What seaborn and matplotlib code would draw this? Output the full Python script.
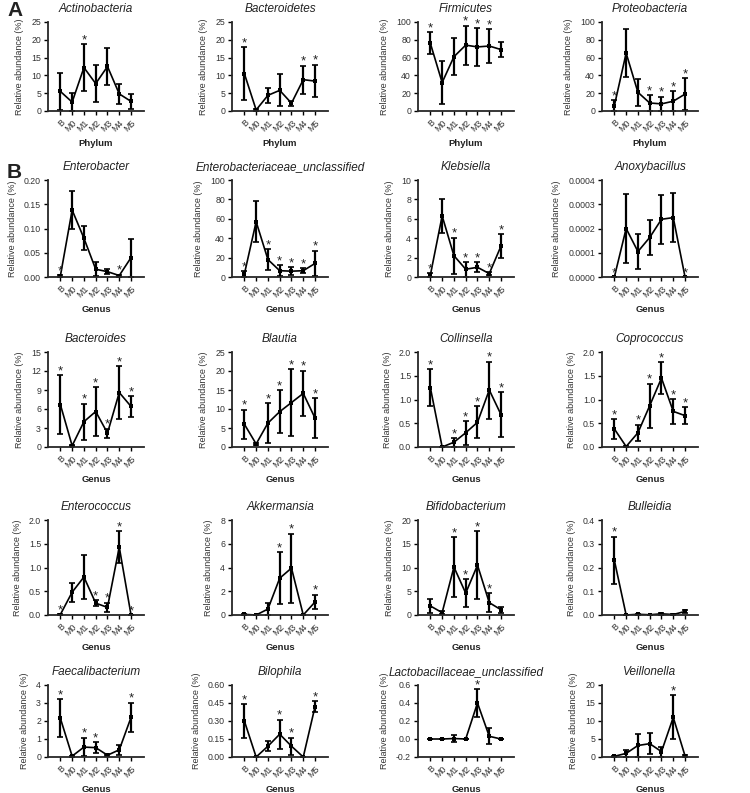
import matplotlib
matplotlib.use('Agg')
import matplotlib.pyplot as plt
import seaborn as sns
import pandas as pd

# sampling points
groups = ['B', 'M0', 'M1', 'M2', 'M3', 'M4', 'M5']

# --- A: phylum level (mean, sd, significance) ---
actino_mean = [5.5, 2.5, 12.2, 7.7, 12.5, 4.8, 2.7]
actino_err = [5.3, 2.5, 6.5, 5.3, 5.3, 2.9, 2.2]
actino_sig = [0, 0, 1, 0, 0, 0, 0]

bactero_mean = [10.5, 0.3, 4.4, 5.8, 2.2, 8.8, 8.4]
bactero_err = [7.5, 0.3, 2.1, 4.5, 0.7, 3.9, 4.6]
bactero_sig = [1, 0, 0, 0, 0, 1, 1]

firmi_mean = [76, 32, 61, 74, 72, 73, 69]
firmi_err = [12.5, 24.5, 21, 22, 21, 19, 8.5]
firmi_sig = [1, 0, 0, 1, 1, 1, 0]

proteo_mean = [6, 65, 21, 9, 8, 11, 19]
proteo_err = [6.5, 27, 15.5, 9, 8, 11, 18]
proteo_sig = [1, 0, 0, 1, 1, 1, 1]

# --- B: genus level ---
enterob_mean = [0.002, 0.138, 0.080, 0.016, 0.011, 0.003, 0.040]
enterob_err = [0.002, 0.040, 0.025, 0.014, 0.005, 0.002, 0.039]
enterob_sig = [1, 0, 0, 0, 0, 1, 0]

enterounc_mean = [3, 57, 18, 6.5, 6, 6.5, 14]
enterounc_err = [3, 21, 10.5, 5.5, 4, 2.5, 13]
enterounc_sig = [1, 0, 1, 1, 1, 1, 1]

klebs_mean = [0.2, 6.3, 2.2, 0.8, 1.0, 0.35, 3.2]
klebs_err = [0.2, 1.75, 1.85, 0.75, 0.5, 0.15, 1.2]
klebs_sig = [1, 0, 1, 1, 1, 1, 1]

anoxy_mean = [0.0, 0.000200, 0.000105, 0.000163, 0.000238, 0.000245, 0.0]
anoxy_err = [0.0, 0.000142, 0.000071, 0.000073, 0.000100, 0.000102, 0.0]
anoxy_sig = [1, 0, 0, 0, 0, 0, 1]

bacteroides_mean = [6.7, 0.2, 4.0, 5.6, 2.2, 8.6, 6.4]
bacteroides_err = [4.6, 0.1, 2.85, 3.8, 0.7, 4.2, 1.6]
bacteroides_sig = [1, 0, 1, 1, 1, 1, 1]

blautia_mean = [6.0, 0.8, 6.3, 9.3, 11.7, 14.1, 7.6]
blautia_err = [3.8, 0.2, 5.2, 5.6, 8.7, 6.0, 5.3]
blautia_sig = [1, 0, 1, 1, 1, 1, 1]

collin_mean = [1.25, 0.0, 0.10, 0.30, 0.52, 1.20, 0.68]
collin_err = [0.39, 0.0, 0.09, 0.25, 0.34, 0.60, 0.47]
collin_sig = [1, 0, 1, 1, 1, 1, 1]

copro_mean = [0.38, 0.01, 0.30, 0.87, 1.45, 0.75, 0.66]
copro_err = [0.21, 0.01, 0.17, 0.46, 0.33, 0.26, 0.18]
copro_sig = [1, 0, 1, 1, 1, 1, 1]

enteroc_mean = [0.01, 0.48, 0.80, 0.25, 0.16, 1.43, 0.0]
enteroc_err = [0.01, 0.20, 0.46, 0.06, 0.10, 0.33, 0.0]
enteroc_sig = [1, 0, 0, 1, 1, 1, 1]

akker_mean = [0.05, 0.0, 0.5, 3.1, 3.95, 0.0, 1.1]
akker_err = [0.05, 0.0, 0.5, 2.2, 2.9, 0.0, 0.62]
akker_sig = [0, 0, 0, 1, 1, 0, 1]

bifido_mean = [1.9, 0.5, 10.1, 4.6, 10.5, 2.6, 1.1]
bifido_err = [1.4, 0.3, 6.3, 3.0, 7.1, 2.0, 0.65]
bifido_sig = [0, 0, 1, 1, 1, 1, 0]

bulle_mean = [0.23, 0.0, 0.003, 0.001, 0.005, 0.002, 0.015]
bulle_err = [0.10, 0.0, 0.003, 0.001, 0.004, 0.002, 0.006]
bulle_sig = [1, 0, 0, 0, 0, 0, 0]

faecali_mean = [2.15, 0.05, 0.55, 0.52, 0.10, 0.40, 2.20]
faecali_err = [1.05, 0.03, 0.52, 0.30, 0.06, 0.29, 0.82]
faecali_sig = [1, 0, 1, 1, 0, 0, 1]

bilo_mean = [0.30, 0.0, 0.09, 0.19, 0.09, 0.0, 0.42]
bilo_err = [0.14, 0.0, 0.04, 0.12, 0.07, 0.0, 0.045]
bilo_sig = [1, 0, 0, 1, 1, 0, 1]

lacto_mean = [0.0, 0.0, 0.005, 0.0, 0.40, 0.03, 0.0]
lacto_err = [0.0, 0.0, 0.035, 0.0, 0.155, 0.087, 0.0]
lacto_sig = [0, 0, 0, 0, 1, 0, 0]

veill_mean = [0.2, 1.0, 3.2, 3.7, 1.5, 11.0, 0.3]
veill_err = [0.1, 0.9, 3.2, 2.9, 1.4, 6.1, 0.3]
veill_sig = [0, 0, 0, 0, 0, 1, 0]

# title, mean, err, sig, ymin, ymax, step, tick format
panels = [
    ('Actinobacteria', actino_mean, actino_err, actino_sig, 0, 25, 5, '{:.0f}'),
    ('Bacteroidetes', bactero_mean, bactero_err, bactero_sig, 0, 25, 5, '{:.0f}'),
    ('Firmicutes', firmi_mean, firmi_err, firmi_sig, 0, 100, 20, '{:.0f}'),
    ('Proteobacteria', proteo_mean, proteo_err, proteo_sig, 0, 100, 20, '{:.0f}'),
    ('Enterobacter', enterob_mean, enterob_err, enterob_sig, 0, 0.2, 0.05, '{:.2f}'),
    ('Enterobacteriaceae_unclassified', enterounc_mean, enterounc_err, enterounc_sig, 0, 100, 20, '{:.0f}'),
    ('Klebsiella', klebs_mean, klebs_err, klebs_sig, 0, 10, 2, '{:.0f}'),
    ('Anoxybacillus', anoxy_mean, anoxy_err, anoxy_sig, 0, 0.0004, 0.0001, '{:.4f}'),
    ('Bacteroides', bacteroides_mean, bacteroides_err, bacteroides_sig, 0, 15, 3, '{:.0f}'),
    ('Blautia', blautia_mean, blautia_err, blautia_sig, 0, 25, 5, '{:.0f}'),
    ('Collinsella', collin_mean, collin_err, collin_sig, 0, 2.0, 0.5, '{:.1f}'),
    ('Coprococcus', copro_mean, copro_err, copro_sig, 0, 2.0, 0.5, '{:.1f}'),
    ('Enterococcus', enteroc_mean, enteroc_err, enteroc_sig, 0, 2.0, 0.5, '{:.1f}'),
    ('Akkermansia', akker_mean, akker_err, akker_sig, 0, 8, 2, '{:.0f}'),
    ('Bifidobacterium', bifido_mean, bifido_err, bifido_sig, 0, 20, 5, '{:.0f}'),
    ('Bulleidia', bulle_mean, bulle_err, bulle_sig, 0, 0.4, 0.1, '{:.1f}'),
    ('Faecalibacterium', faecali_mean, faecali_err, faecali_sig, 0, 4, 1, '{:.0f}'),
    ('Bilophila', bilo_mean, bilo_err, bilo_sig, 0, 0.6, 0.15, '{:.2f}'),
    ('Lactobacillaceae_unclassified', lacto_mean, lacto_err, lacto_sig, -0.2, 0.6, 0.2, '{:.1f}'),
    ('Veillonella', veill_mean, veill_err, veill_sig, 0, 20, 5, '{:.0f}'),
]

sns.set_style('ticks')
plt.rcParams['font.family'] = ['Liberation Sans', 'DejaVu Sans']
plt.rcParams['axes.linewidth'] = 1.3
plt.rcParams['text.color'] = '#222222'

W, H = 750, 793
fig = plt.figure(figsize=(W / 100, H / 100), dpi=100)

col_left = [48, 232, 418, 602]
ax_w = 96
rows = [(22, 111), (180, 277), (352, 447), (520, 615), (685, 757)]

for k, (title, mean, err, sig, ymin, ymax, step, fmt) in enumerate(panels):
    r, c = divmod(k, 4)
    top, bot = rows[r]
    ax = fig.add_axes([col_left[c] / W, 1 - bot / H, ax_w / W, (bot - top) / H])
    df = pd.DataFrame({'pos': range(len(groups)), 'mean': mean})
    sns.lineplot(data=df, x='pos', y='mean', color='black', lw=1.2,
                 marker='s', markersize=3.2, markeredgewidth=0, ax=ax)
    ax.errorbar(range(len(groups)), mean, yerr=err, fmt='none', ecolor='black',
                elinewidth=1.6, capsize=2, capthick=1.2)
    for i in range(len(groups)):
        if sig[i]:
            ax.annotate('*', (i, mean[i] + err[i]), xytext=(0, -1.5),
                        textcoords='offset points', ha='center', va='bottom',
                        fontsize=9.5, color='#222222', annotation_clip=False)
    ax.set_xlim(-1.05, 7.1)
    ax.set_ylim(ymin, ymax)
    n = int(round((ymax - ymin) / step))
    ticks = [ymin + j * step for j in range(n + 1)]
    ax.set_yticks(ticks)
    ax.set_yticklabels([fmt.format(t) for t in ticks])
    ax.set_xticks(range(len(groups)))
    ax.set_xticklabels(groups, rotation=45, ha='right', rotation_mode='anchor')
    ax.tick_params(axis='both', labelsize=6.3, length=3, width=1.0,
                   colors='black', labelcolor='#333333', pad=2)
    ax.set_title(title, fontsize=8.5, style='italic', pad=7, color='#222222')
    ax.set_ylabel('Relative abundance (%)', fontsize=6.5, color='#333333', labelpad=5)
    ax.set_xlabel('Phylum' if r == 0 else 'Genus', fontsize=6.8,
                  fontweight='bold', color='#222222', labelpad=4)
    sns.despine(ax=ax)

fig.text(7 / W, 1 - 11 / H, 'A', fontsize=15, fontweight='bold', va='center')
fig.text(7 / W, 1 - 173 / H, 'B', fontsize=15, fontweight='bold', va='center')

fig.savefig('out.png', dpi=100)
